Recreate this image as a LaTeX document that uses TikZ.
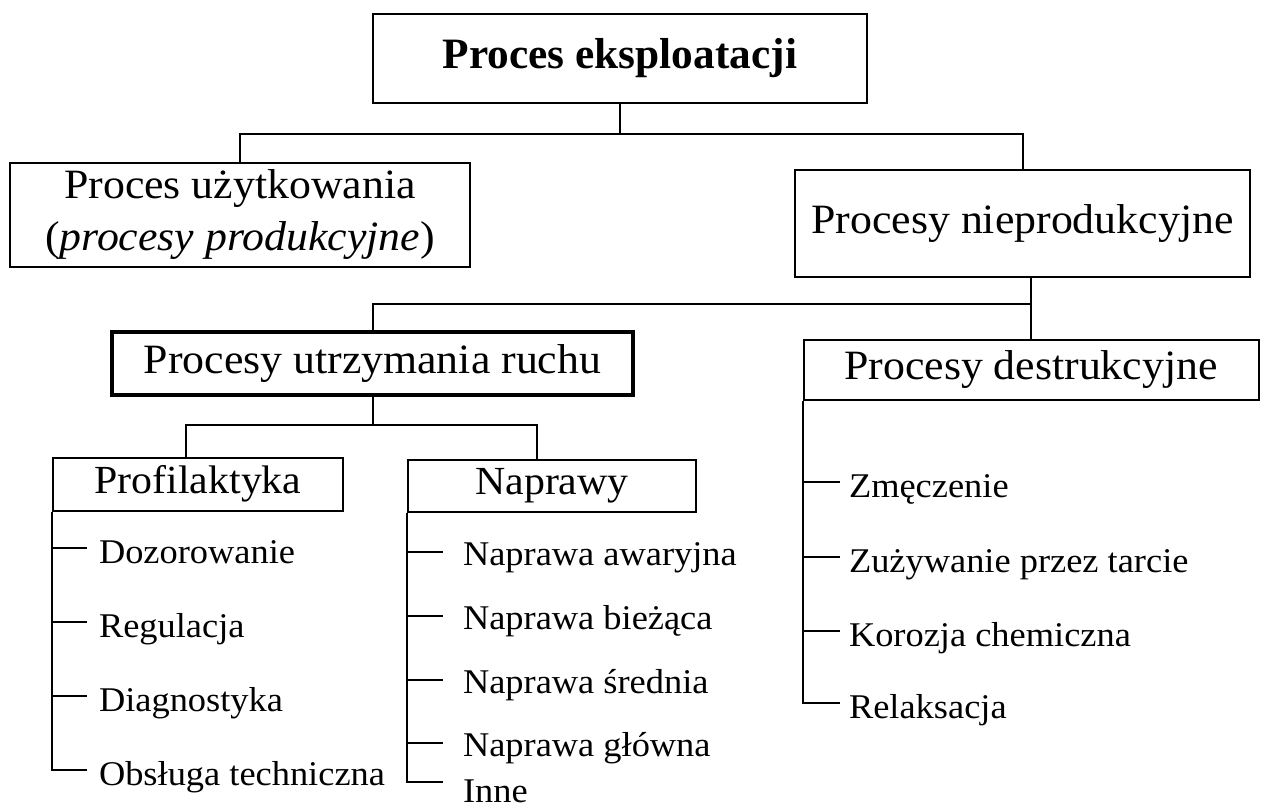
\documentclass[tikz,border=0pt]{standalone}
\usepackage{fontspec}
\setmainfont{Liberation Serif}[FakeStretch=1.05]
\newfontfamily\headfont{Liberation Serif}
\usetikzlibrary{calc}
\begin{document}
\begin{tikzpicture}[x=0.75pt,y=-0.75pt,
  line width=1.5pt,
  box/.style={draw, line width=1.5pt, inner sep=0pt, align=center},
  lbl/.style={font=\fontsize{31.3pt}{39pt}\selectfont},
  sub/.style={font=\fontsize{29.9pt}{34pt}\selectfont},
  entry/.style={anchor=west, inner sep=0pt, text height=23pt, text depth=0pt,
                font=\fontsize{26pt}{30pt}\selectfont},
  heavy/.style={line width=3pt}]
\useasboundingbox (0,0) rectangle (1266,808);

% top level
\node[box, minimum width=370.5pt, minimum height=66.75pt,
      font=\headfont\fontsize{32.5pt}{36pt}\selectfont\bfseries] (T) at (620,58.5) {Proces eksploatacji};

% second level
\node[box, lbl, minimum width=345pt, minimum height=78pt] (U) at (240,215)
  {Proces użytkowania\\(\textit{procesy produkcyjne})};
\node[box, lbl, minimum width=341.25pt, minimum height=80.25pt] (N) at (1022.5,223.5)
  {Procesy nieprodukcyjne};

% third level
\node[box, lbl, heavy, minimum width=390.75pt, minimum height=47.25pt] (R) at (372.5,363.5)
  {Procesy utrzymania ruchu};
\node[box, lbl, minimum width=341.25pt, minimum height=45pt] (D) at (1031,370)
  {Procesy destrukcyjne};

% fourth level
\node[box, sub, minimum width=217.5pt, minimum height=39.75pt] (P) at (198,484) {Profilaktyka};
\node[box, sub, minimum width=216pt, minimum height=39pt] (W) at (552,486) {Naprawy};

% junctions
\coordinate (j1) at (620,134);
\coordinate (j2) at (1031,304);
\coordinate (j3) at (372.5,425);

\draw (T.south) -- (j1);
\draw (U.north) |- (j1) -| (N.north);
\draw ($(N.south)+(8.5,0)$) -- (D.north);
\draw (j2) -| (R.north);
\draw (R.south) -- (j3);
\draw ($(P.north)+(-12,0)$) |- (j3) -| ($(W.north)+(-15,0)$);

% Profilaktyka
\node[entry] (p1) at (98,548) {Dozorowanie};
\node[entry] (p2) at (98,622) {Regulacja};
\node[entry] (p3) at (98,696) {Diagnostyka};
\node[entry] (p4) at (98,770) {Obsługa techniczna};
\draw[shorten >=8.25pt] (P.south west) |- (p4.west);
\foreach \i in {1,2,3}
  \draw[shorten >=8.25pt] (P.south west |- p\i.west) -- (p\i.west);

% Naprawy
\node[entry, text height=20pt] (w1) at (462,552) {Naprawa awaryjna};
\node[entry, text height=20pt] (w2) at (462,616) {Naprawa bieżąca};
\node[entry, text height=20pt] (w3) at (462,680) {Naprawa średnia};
\node[entry, text height=20pt] (w4) at (462,743) {Naprawa główna};
\node[entry, text height=30pt] (w5) at (462,782) {Inne};
\draw[shorten >=14.25pt] (W.south west) |- (w5.west);
\foreach \i in {1,2,3,4}
  \draw[shorten >=14.25pt] (W.south west |- w\i.west) -- (w\i.west);

% Procesy destrukcyjne
\node[entry] (d1) at (848,482) {Zmęczenie};
\node[entry] (d2) at (848,557) {Zużywanie przez tarcie};
\node[entry] (d3) at (848,631) {Korozja chemiczna};
\node[entry] (d4) at (848,703) {Relaksacja};
\draw[shorten >=6pt] (D.south west) |- (d4.west);
\foreach \i in {1,2,3}
  \draw[shorten >=6pt] (D.south west |- d\i.west) -- (d\i.west);
\end{tikzpicture}
\end{document}
